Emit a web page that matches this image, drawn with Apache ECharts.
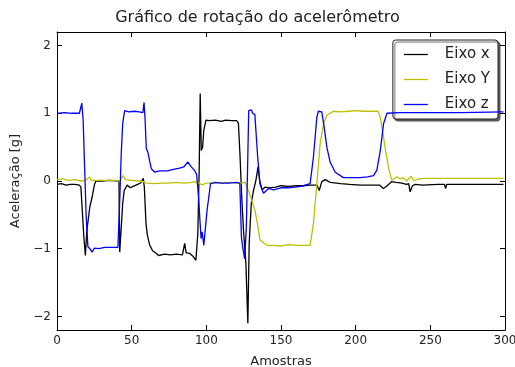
<!DOCTYPE html>
<html><head><meta charset="utf-8">
<script src="https://cdn.jsdelivr.net/npm/echarts@6/dist/echarts.min.js"></script>
<style>html,body{margin:0;padding:0;background:#fff}#c{width:515px;height:367px}</style>
</head><body><div id="c"></div>
<script>
const title = 'Gráfico de rotação do acelerômetro';
const xName = 'Amostras';
const yName = 'Aceleração [g]';
const seriesNames = ['Eixo x', 'Eixo Y', 'Eixo z'];
const xTicks = [0, 50, 100, 150, 200, 250, 300];
const yTicks = [-2, -1, 0, 1, 2];

// Eixo x (black)
const xS = [0,3,6,9,12,15,16,18,19,20,22,23.5,25,26,30,35,41.5,42,44,45,47,49,51,54,56,57.8,58.5,59.6,60.5,62,64,66,68,72,76,80,84,85.5,86.5,89,91,93,94.3,95.2,95.9,96.6,97.5,98.3,99.8,102,106,110,113,117,120.4,121.5,122.6,123.8,124.9,126.5,127.8,128.7,130.1,131.6,133.2,134.6,135.7,137.3,139.5,142,146.5,150,155,160,165,169.5,174,175.6,177.3,179.6,183,190,196,203,210,216,218.5,220.5,224,227,231,234,235.5,236.5,238,240,245,255,259.5,260.2,261,270,280,290,299];
const xV = [-0.05,-0.04,-0.06,-0.05,-0.05,-0.06,-0.09,-0.83,-1.1,-0.73,-0.38,-0.24,-0.06,0.0,0.0,0.01,0.0,-1.05,-0.33,-0.14,-0.06,-0.1,-0.08,-0.05,-0.03,0.04,-0.1,-0.63,-0.8,-0.94,-1.03,-1.06,-1.1,-1.08,-1.09,-1.08,-1.09,-0.92,-1.06,-1.07,-1.11,-1.17,-0.78,0.16,1.29,0.45,0.5,0.75,0.9,0.89,0.9,0.88,0.9,0.89,0.89,0.85,0.35,-0.28,-0.73,-1.22,-2.1,-0.92,-0.33,-0.14,0.01,0.21,0.01,-0.13,-0.09,-0.1,-0.09,-0.07,-0.08,-0.07,-0.07,-0.06,-0.06,-0.14,-0.01,0.02,-0.02,-0.04,-0.05,-0.06,-0.06,-0.06,-0.11,-0.08,-0.01,-0.02,-0.03,-0.05,-0.04,-0.16,-0.07,-0.05,-0.06,-0.05,-0.05,-0.11,-0.05,-0.05,-0.05,-0.05,-0.05];

// Eixo Y (yellow)
const yS = [0,4,8,12,16,19,21.8,23,26,30,35,40,42,44.2,46,50,55,58,60,65,70,75,80,85,90,94,97,100,105,110,115,120,123.5,126,129,132.5,134,135.9,138.6,141,145,150,155,160,165,169.5,170.5,171.7,174,176.2,178.5,180.7,185,190,195,200,205,210,215,216.5,218.5,220,222,224.1,227.5,230,232,234,237.3,239,242,246.5,260,280,299];
const yV = [0.02,0.03,0.01,0.02,0.0,0.01,0.06,0.01,0.01,0.01,0.01,0.01,0.0,0.08,0.02,0.01,0.0,-0.01,-0.03,-0.04,-0.03,-0.03,-0.02,-0.03,-0.02,-0.01,-0.06,-0.03,-0.03,-0.03,-0.02,-0.03,-0.03,-0.02,-0.19,-0.43,-0.6,-0.87,-0.92,-0.95,-0.95,-0.96,-0.94,-0.95,-0.95,-0.95,-0.97,-0.63,-0.04,0.55,0.85,0.97,1.03,1.02,1.03,1.04,1.03,1.03,1.03,0.94,0.67,0.45,0.2,0.01,0.06,0.03,0.05,0.0,0.07,0.0,0.03,0.04,0.04,0.04,0.04];

// Eixo z (blue)
const zS = [0,5,10,15,16.6,17.5,18.5,19.5,20.7,22,23.5,25,28,32,36,40.8,42,43,44,45.3,48,52,55,57.5,58.3,59,59.8,60.8,62,63.2,65.4,68.7,74,78,82,85,87.7,89.5,91.9,93.5,95,95.7,96.5,97.2,98.3,100.5,102.8,106,110,115,120,122.4,123.5,124.5,125.7,126.8,128.4,129.5,130.2,131,132.5,134.4,135.9,138.3,139.3,141.7,145,150,155,160,165,169.5,171.7,174,175,177.3,178.9,180.7,182.9,186.3,191.8,197,203,208,212,214.2,216.5,218.7,221,230,250,270,299];
const zV = [1.0,1.01,1.0,1.0,1.15,0.9,0.2,-0.5,-0.97,-1.0,-1.05,-0.99,-1.0,-0.98,-0.98,-0.98,-0.3,0.4,0.85,1.04,1.02,1.03,1.02,1.01,1.16,0.9,0.48,0.43,0.3,0.18,0.13,0.15,0.15,0.17,0.19,0.21,0.28,0.22,0.16,0.1,-0.3,-0.58,-0.85,-0.75,-0.95,-0.43,-0.04,-0.02,-0.03,-0.03,-0.02,-0.03,-0.83,-1.0,-1.15,-0.68,1.04,1.02,1.05,1.0,0.98,0.35,-0.04,-0.18,-0.16,-0.11,-0.13,-0.1,-0.1,-0.09,-0.07,-0.04,0.35,0.94,1.03,1.02,0.8,0.5,0.28,0.13,0.05,0.05,0.05,0.06,0.08,0.16,0.45,0.85,1.0,1.01,1.01,1.01,1.02];

const colors = ['#000000', '#bfbf00', '#0000ff'];
const pairs = (s, v) => s.map((x, i) => [x, v[i]]);
const FONT = 'DejaVu Sans';
const fmt = v => String(v).replace('-', '\u2212');

const chart = echarts.init(document.getElementById('c'), null, {renderer: 'canvas'});
const axisCommon = {
  axisLine: {show: true, onZero: false, lineStyle: {color: '#000', width: 1}},
  splitLine: {show: false}
};
chart.setOption({
  animation: false,
  backgroundColor: '#fff',
  title: {text: title, left: 'center', top: 10, padding: 0,
    textStyle: {fontFamily: FONT, fontSize: 16, fontWeight: 'normal', color: '#222'}},
  grid: {left: 57, right: 10, top: 32, bottom: 37, containLabel: false, outerBoundsMode: 'none'},
  legend: {
    data: seriesNames, orient: 'vertical', right: 17, top: 40,
    icon: 'path://M0,0H24V1.3H0Z',
    padding: [7, 8, 7, 11], itemWidth: 24, itemHeight: 14, itemGap: 10,
    backgroundColor: '#fff', borderColor: '#222', borderWidth: 1, borderRadius: 3,
    shadowColor: 'rgba(0,0,0,0.6)', shadowBlur: 1, shadowOffsetX: 2, shadowOffsetY: 2,
    textStyle: {fontFamily: FONT, fontSize: 15, color: '#222', padding: [0, 0, 0, 12]}
  },
  xAxis: [
    Object.assign({type: 'value', min: xTicks[0], max: xTicks[xTicks.length - 1], interval: 50,
      name: xName, nameLocation: 'middle', nameGap: 25,
      nameTextStyle: {fontFamily: FONT, fontSize: 13, color: '#222'},
      axisTick: {show: true, inside: true, length: 5, lineStyle: {color: '#000'}},
      axisLabel: {fontFamily: FONT, fontSize: 12, color: '#222', margin: 5, showMaxLabel: true}}, axisCommon),
    Object.assign({type: 'value', position: 'top', min: xTicks[0], max: xTicks[xTicks.length - 1], interval: 50,
      axisTick: {show: true, inside: true, length: 5, lineStyle: {color: '#000'}},
      axisLabel: {show: false}}, axisCommon)
  ],
  yAxis: [
    Object.assign({type: 'value', min: -2.2, max: 2.2,
      name: yName, nameLocation: 'middle', nameGap: 28,
      nameTextStyle: {fontFamily: FONT, fontSize: 13, color: '#222'},
      axisTick: {show: true, inside: true, length: 5, lineStyle: {color: '#000'}, customValues: yTicks},
      axisLabel: {fontFamily: FONT, fontSize: 12, color: '#222', margin: 6, customValues: yTicks, formatter: fmt}}, axisCommon),
    Object.assign({type: 'value', position: 'right', min: -2.2, max: 2.2,
      axisTick: {show: true, inside: true, length: 5, lineStyle: {color: '#000'}, customValues: yTicks},
      axisLabel: {show: false, customValues: yTicks}}, axisCommon)
  ],
  series: seriesNames.map((n, i) => ({
    name: n, type: 'line', symbol: 'none', xAxisIndex: 0, yAxisIndex: 0,
    data: pairs([xS, yS, zS][i], [xV, yV, zV][i]),
    lineStyle: {color: colors[i], width: 1.3}, itemStyle: {color: colors[i]},
    z: 2 + i
  }))
});
</script></body></html>
